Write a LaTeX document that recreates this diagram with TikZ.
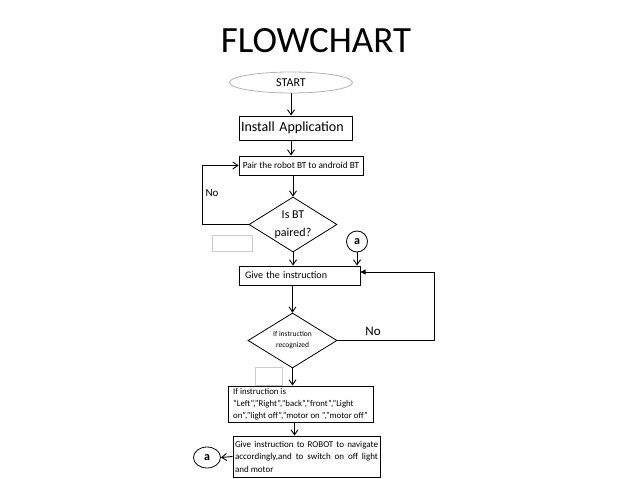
\documentclass[tikz,border=0pt]{standalone}
\usepackage{fontspec}
\setmainfont{Carlito}
\usetikzlibrary{shapes.geometric, arrows.meta, positioning}
\tikzstyle{process} = [rectangle, draw=black, line width=1pt, inner sep=2pt]
\tikzstyle{decision} = [diamond, draw=black, line width=0.8pt, aspect=1.6, inner sep=0pt, align=center]
\tikzstyle{blank} = [rectangle, draw=gray!40, line width=0.8pt]
\tikzstyle{connector} = [circle, draw=black, line width=0.8pt, inner sep=0pt]
\tikzstyle{arrow} = [line width=0.9pt, -{Straight Barb[length=5pt,width=7pt]}]
\tikzstyle{line} = [line width=0.9pt]

\begin{document}
\begin{tikzpicture}[x=1pt, y=-1pt]
        \useasboundingbox (0,0) rectangle (638,479);
        % Title
        \node (title) at (316,41) {\fontsize{37}{44}\selectfont FLOWCHART};

        % Top: start and setup
        \node (start) [ellipse, draw=gray!60, line width=0.8pt, minimum width=123pt, minimum height=21pt, inner sep=0pt, font=\fontsize{12}{14}\selectfont] at (291,82.5) {START};
        \node (install) [process, minimum width=113pt, minimum height=24pt, text width=109pt, align=left, font=\fontsize{14}{16}\selectfont] at (295.5,128) {Install Application};
        \node (pair) [process, minimum width=124pt, minimum height=19pt, inner sep=0pt, font=\fontsize{9.3}{11}\selectfont] at (301,165.5) {Pair the robot BT to android BT};

        % Middle: pairing check
        \node (isbt) [decision, minimum width=88pt, minimum height=55pt, font=\fontsize{12}{14}\selectfont] at (293,224.5) {Is BT\\[4pt]paired?};
        \node (nopair) [font=\fontsize{11}{13}\selectfont] at (212,193) {No};
        \node (blank1) [blank, minimum width=40pt, minimum height=16pt] at (232,243) {};
        \node (a1) [connector, minimum size=21pt, font=\bfseries\fontsize{12}{14}\selectfont] at (357,241.5) {a};
        \node (give) [process, minimum width=121pt, minimum height=19pt, inner xsep=6pt, text width=109pt, align=left, font=\fontsize{10}{12}\selectfont] at (299.5,275.5) {Give the instruction};

        % Lower: recognition check
        \node (recog) [decision, minimum width=89pt, minimum height=55pt, font=\fontsize{7.5}{11}\selectfont] at (292.5,340.5) {If instruction\\recognized};
        \node (norecog) [font=\fontsize{13}{15}\selectfont] at (373,331) {No};
        \node (blank2) [blank, minimum width=27pt, minimum height=18pt] at (268.5,376) {};

        % Bottom: commands and action
        \node (cond) [process, minimum width=145pt, minimum height=36pt, inner xsep=1pt, inner ysep=2pt, align=left, font=\fontsize{8.8}{12}\selectfont] at (300.5,404) {If instruction is\\“Left”,”Right”,”back”,”front”,”Light\\on”,”light off”,”motor on ”,”motor off”};
        \node (act) [process, minimum width=147pt, minimum height=41pt, inner sep=2pt, text width=143pt, align=justify, font=\fontsize{9}{12.5}\selectfont] at (306.5,456.5) {Give instruction  to ROBOT to navigate accordingly,and to switch on off  light and motor};
        \node (a2) [ellipse, draw=black, line width=0.8pt, minimum width=27pt, minimum height=21pt, inner sep=0pt, font=\bfseries\fontsize{12}{14}\selectfont] at (207,457.5) {a};

        \coordinate (loopl) at (202,224.5);
        \coordinate (loopr) at (434,340.5);

        % Arrows
        \draw[arrow] (start.south) -- (start.south |- install.north);
        \draw[arrow] (install.south -| start.south) -- (pair.north -| start.south);
        \draw[arrow] (pair.south -| isbt.north) -- (isbt.north);
        \draw[arrow] (isbt.west) -- (loopl) |- (pair.west);
        \draw[arrow] (isbt.south) -- (isbt.south |- give.north);
        \draw[arrow] (a1.south) -- (a1.south |- give.north);
        \draw[arrow] (give.south -| recog.north) -- (recog.north);
        \draw[line, -{Triangle[length=5pt,width=5pt]}] (recog.east) -- (loopr) |- ([yshift=3.5pt]give.east);
        \draw[arrow] (recog.south) -- (recog.south |- cond.north);
        \draw[arrow] ([xshift=2pt]cond.south -| recog.south) -- ([xshift=2pt]act.north -| recog.south);
        \draw[arrow] (act.west) -- (a2.east);
\end{tikzpicture}
\end{document}
